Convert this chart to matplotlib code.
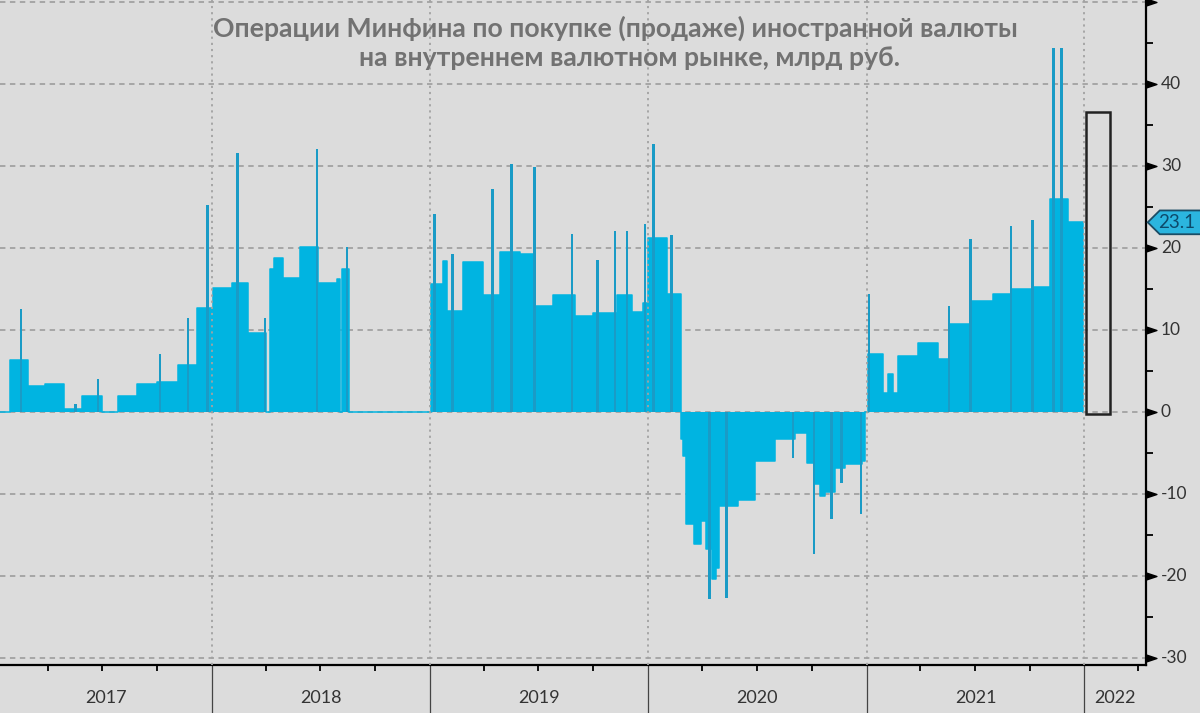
"""
Minfin FX purchases (sales) on the domestic market, bn rub per day.
"""
import numpy as np
import pandas as pd
import matplotlib
matplotlib.use('Agg')
import matplotlib.pyplot as plt
import matplotlib.dates as mdates
from matplotlib.patches import Polygon, Rectangle
from matplotlib.transforms import blended_transform_factory

# stepped daily level: each value holds from its date until the next date
step_dates = [
    '2017-01-11', '2017-01-27', '2017-02-27', '2017-03-27', '2017-04-29', '2017-05-28',
    '2017-06-30', '2017-07-27', '2017-08-28', '2017-10-01', '2017-11-05', '2017-12-07',
    '2018-01-01', '2018-01-03', '2018-02-04', '2018-03-02', '2018-04-01', '2018-04-08',
    '2018-04-15', '2018-04-30', '2018-05-28', '2018-06-27', '2018-07-29', '2018-08-03',
    '2018-08-06', '2018-08-18',
    '2019-01-03', '2019-01-23', '2019-01-29', '2019-02-25', '2019-03-31', '2019-04-28',
    '2019-06-01', '2019-06-26', '2019-07-26', '2019-09-01', '2019-10-01', '2019-11-10',
    '2019-12-05', '2019-12-24',
    '2020-01-01', '2020-02-02', '2020-02-25', '2020-02-29', '2020-03-05', '2020-03-18',
    '2020-03-30', '2020-04-07', '2020-04-17', '2020-04-24', '2020-04-29', '2020-05-31',
    '2020-06-28', '2020-08-01', '2020-09-03', '2020-09-23', '2020-10-07', '2020-10-15',
    '2020-10-24', '2020-11-09', '2020-11-26', '2020-12-25', '2020-12-30',
    '2021-01-04', '2021-01-29', '2021-02-06', '2021-02-15', '2021-02-23', '2021-03-29',
    '2021-05-01', '2021-05-20', '2021-06-25', '2021-07-31', '2021-09-01', '2021-10-07',
    '2021-11-05', '2021-12-05', '2021-12-30',
]
step_values = [
    0.0, 6.3, 3.2, 3.4, 0.3, 1.9,
    0.0, 1.9, 3.4, 3.6, 5.7, 12.7,
    0.0, 15.1, 15.7, 9.6, 0.0, 17.4,
    18.7, 16.3, 20.1, 15.7, 16.2, 0.0,
    17.4, 0.0,
    15.6, 18.4, 12.3, 18.3, 14.3, 19.5,
    19.3, 12.9, 14.3, 11.7, 12.1, 14.3,
    12.2, 13.3,
    21.2, 14.4, -3.3, -5.4, -13.7, -16.1,
    -13.3, -16.7, -20.4, -19.0, -11.5, -10.8,
    -6.0, -3.3, -2.6, -6.2, -8.8, -10.2,
    -9.8, -6.8, -6.4, -6.0, 0.0,
    7.1, 2.3, 4.6, 2.3, 6.8, 8.4,
    6.5, 10.7, 13.5, 14.4, 15.0, 15.2,
    26.0, 23.1, 0.0,
]

# single-day peaks
spike_dates = [
    '2017-02-15', '2017-05-18', '2017-06-24', '2017-10-06', '2017-11-22', '2017-12-24',
    '2018-02-13', '2018-03-31', '2018-06-26', '2018-08-15',
    '2019-01-09', '2019-02-08', '2019-04-16', '2019-05-17', '2019-06-25', '2019-08-27',
    '2019-10-09', '2019-11-07', '2019-11-27', '2019-12-27',
    '2020-01-10', '2020-02-09', '2020-04-13', '2020-05-12', '2020-08-31', '2020-10-05',
    '2020-11-03', '2020-11-20', '2020-12-23',
    '2021-01-05', '2021-05-19', '2021-06-24', '2021-08-31', '2021-10-06', '2021-11-10',
    '2021-11-23',
]
spike_values = [
    12.5, 0.9, 4.0, 7.1, 11.5, 25.2,
    31.5, 11.5, 32.1, 20.1,
    24.1, 19.3, 27.2, 30.2, 29.8, 21.7,
    18.5, 22.1, 22.1, 22.9,
    32.7, 21.6, -22.8, -22.7, -5.6, -17.3,
    -13.0, -8.7, -12.5,
    14.4, 12.9, 21.1, 22.7, 23.4, 44.4,
    44.4,
]

forecast_start = '2022-01-04'
forecast_end = '2022-02-12'
forecast_value = 36.6
last_value = 23.1

years = [2017, 2018, 2019, 2020, 2021, 2022]
x_start = '2017-01-11'
x_end = '2022-04-14'

BG = '#dcdcdc'
CYAN = '#00b4e1'
SPIKE = '#1a9bc6'
GRID = '#a2a2a2'

plt.rcParams['font.family'] = ['Lato', 'DejaVu Sans']

fig = plt.figure(figsize=(12, 7.13), dpi=100, facecolor=BG)
ax = fig.add_axes([0, 48 / 713, 1146 / 1200, 665 / 713], facecolor=BG)

xs = mdates.date2num(pd.to_datetime(step_dates))
vals = np.array(step_values)
ax.bar(xs[:-1], vals[:-1], width=np.diff(xs), align='edge', color=CYAN, linewidth=0, zorder=2)
ax.step(xs, vals, where='post', color=CYAN, lw=1.1, zorder=2.5)

sx = mdates.date2num(pd.to_datetime(spike_dates))
ax.bar(sx, spike_values, width=4.5, color=SPIKE, linewidth=0, zorder=2.6)

fx0 = mdates.date2num(pd.Timestamp(forecast_start))
fx1 = mdates.date2num(pd.Timestamp(forecast_end))
ax.add_patch(Rectangle((fx0, -0.3), fx1 - fx0, forecast_value + 0.3, facecolor='none',
                       edgecolor='#222222', lw=1.8, zorder=3))

x0 = mdates.date2num(pd.Timestamp(x_start))
x1 = mdates.date2num(pd.Timestamp(x_end))
ax.set_xlim(x0, x1)
ax.set_ylim(-30.85, 50.2)

# grid
ax.set_yticks(range(-30, 51, 10))
ax.yaxis.grid(True, ls=(0, (3, 2.5)), color=GRID, lw=1.3)
ax.set_axisbelow(True)
year_x = [mdates.date2num(pd.Timestamp(f'{y}-01-01')) for y in years[1:]]
for xv in year_x:
    ax.axvline(xv, ls=(0, (1.2, 2.2)), color=GRID, lw=1.3, zorder=2.8)

# spines
for s in ['top', 'left']:
    ax.spines[s].set_visible(False)
for s in ['right', 'bottom']:
    ax.spines[s].set_color('black')
    ax.spines[s].set_linewidth(1.6)

# x ticks: year separators and quarter marks
ax.set_xticks(year_x)
ax.set_xticklabels([])
quarters = [mdates.date2num(pd.Timestamp(f'{y}-{m:02d}-01'))
            for y in years for m in (4, 7, 10)]
quarters = [q for q in quarters if q < x1]
ax.set_xticks(quarters, minor=True)
ax.tick_params(axis='x', which='major', length=36, width=0.9, color='#444444', direction='out')
ax.tick_params(axis='x', which='minor', length=4, width=1.3, color='black', direction='out')

# y ticks on the right: triangles for majors, short lines for minors
ax.yaxis.tick_right()
ax.tick_params(axis='y', which='major', length=0, labelright=False)
ax.set_yticks(range(-25, 50, 10), minor=True)
ax.tick_params(axis='y', which='minor', length=5, width=1.3, color='black', direction='out')

rt = blended_transform_factory(ax.transAxes, ax.transData)
tri = [(0, -1), (3, 0), (0, 1)]
for v in range(-30, 51, 10):
    ax.plot([1.0], [v], marker=tri, ms=15, color='black', transform=rt, clip_on=False)
    if v < 50:
        ax.text(1.013, v, f'{v}', transform=rt, ha='left', va='center',
                fontsize=12.5, color='#333333')

# last value tag
tag = Polygon([(1.0015, last_value), (1.012, last_value + 1.45), (1.07, last_value + 1.45),
               (1.07, last_value - 1.45), (1.012, last_value - 1.45)], closed=True,
              transform=rt, clip_on=False, facecolor='#2bb5df', edgecolor='#1b4d66', lw=1.3,
              zorder=5)
ax.add_patch(tag)
ax.text(1.0105, last_value, f'{last_value}', transform=rt, ha='left', va='center',
        fontsize=13.5, color='#0d4a6b', zorder=6)

# year labels below the axis
bt = blended_transform_factory(ax.transData, ax.transAxes)
edges = [x0] + year_x + [x1]
for i, y in enumerate(years):
    ax.text((edges[i] + edges[i + 1]) / 2, -0.05, str(y), transform=bt, ha='center',
            va='center', fontsize=13, color='#333333')

fig.text(0.5125, 0.9607, 'Операции Минфина по покупке (продаже) иностранной валюты',
         ha='center', va='center', fontsize=19.2, fontweight='bold', color='#727272')
fig.text(0.5246, 0.9187, 'на внутреннем валютном рынке, млрд руб.',
         ha='center', va='center', fontsize=19.2, fontweight='bold', color='#727272')

fig.savefig('out.png', dpi=100, facecolor=BG)
